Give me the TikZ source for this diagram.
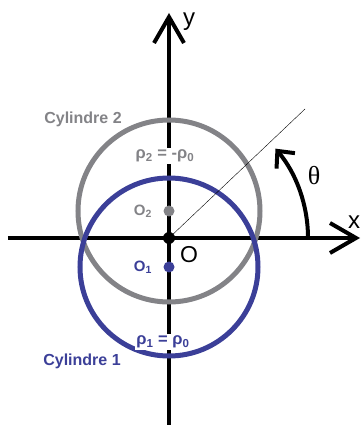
\documentclass[tikz,border=0pt]{standalone}
\usepackage{fontspec}
\setmainfont{Liberation Sans}
\newfontfamily\thetafont{Liberation Serif}
\usetikzlibrary{arrows.meta}
\colorlet{axiscol}{black}
\definecolor{cyltwocol}{RGB}{131,131,135}
\definecolor{cylonecol}{RGB}{59,63,152}
\tikzset{
  dot/.style={circle, fill, inner sep=0pt, minimum size=#1},
  cyllabel/.style={font=\fontsize{16}{16}\selectfont\bfseries},
  rholabel/.style={font=\fontsize{16.5}{16.5}\selectfont\bfseries, fill=white, inner sep=1.5pt},
  centrelabel/.style={font=\fontsize{15}{15}\selectfont\bfseries},
}

\begin{document}
\begin{tikzpicture}[x=1pt, y=1pt, >={Straight Barb[length=26pt,width=30pt]}]
  \useasboundingbox (-169,-187) rectangle (194,238);

  % Axes.
  \coordinate (xmin) at (-161,0);
  \coordinate (xmax) at (191,0);
  \coordinate (ymin) at (0,-188);
  \coordinate (ymax) at (0,225);
  \draw[->, line width=4pt, axiscol] (xmin) -- (xmax);
  \draw[->, line width=4pt, axiscol] (ymin) -- (ymax);
  \node[font=\fontsize{24}{24}\selectfont] (ylab) at (20,216) {y};
  \node[font=\fontsize{24}{24}\selectfont, inner sep=0pt] (xlab) at (185,16) {x};

  % Cylinders.
  \coordinate (C2) at (0,27);
  \coordinate (C1) at (0,-29);
  \draw[line width=5pt, cyltwocol] (C2) circle[radius=91pt];
  \draw[line width=5pt, cylonecol] (C1) circle[radius=89pt];

  % Radial line and angle.
  \coordinate (ray) at (136,129);
  \draw[thin, axiscol] (0,0) -- (ray);
  \draw[->, line width=4pt, axiscol, >={Straight Barb[length=13pt,width=24pt]}]
    (139,0) arc[start angle=0, end angle=40, radius=139pt];
  \node[font=\thetafont\fontsize{26}{26}\selectfont] (theta) at (145,62) {θ};

  % Centres.
  \node[dot=12pt, axiscol] (O) at (0,0) {};
  \node[dot=11pt, cyltwocol] (O2) at (C2) {};
  \node[dot=11pt, cylonecol] (O1) at (C1) {};
  \node[font=\fontsize{23}{23}\selectfont] (Olab) at (20,-17) {O};
  \node[centrelabel, text=cyltwocol] (O2lab) at (-26,27) {O\textsubscript{2}};
  \node[centrelabel, text=cylonecol] (O1lab) at (-26,-29) {O\textsubscript{1}};

  % Labels.
  \node[rholabel, text=cyltwocol] (rho2) at (-4,82) {ρ\textsubscript{2} = -ρ\textsubscript{0}};
  \node[rholabel, text=cylonecol] (rho1) at (-6,-104) {ρ\textsubscript{1} = ρ\textsubscript{0}};
  \node[cyllabel, text=cyltwocol] (cyl2) at (-86,119) {Cylindre 2};
  \node[cyllabel, text=cylonecol] (cyl1) at (-87,-123) {Cylindre 1};

\end{tikzpicture}
\end{document}
